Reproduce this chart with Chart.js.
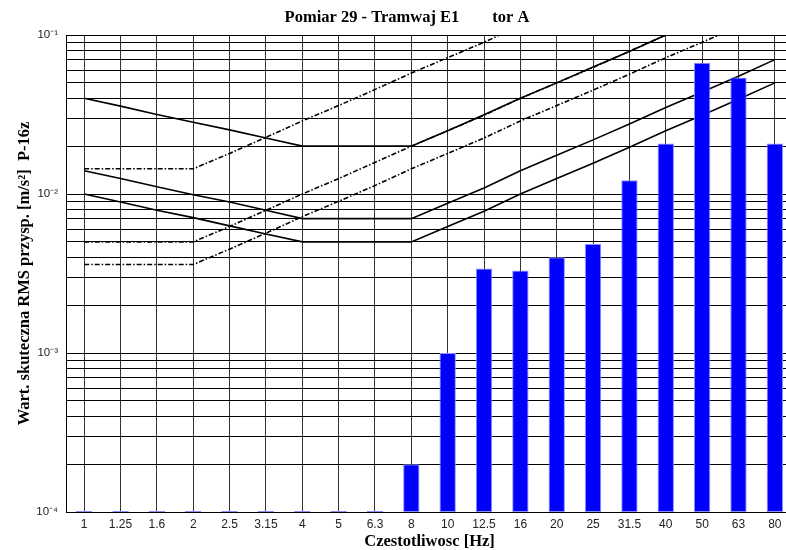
<!DOCTYPE html>
<html>
<head>
<meta charset="utf-8">
<script src="https://cdn.jsdelivr.net/npm/chart.js@4/dist/chart.umd.min.js"></script>
<style>
  html, body { margin: 0; padding: 0; background: #fff; overflow: hidden; }
  #wrap { width: 814px; height: 550px; }
</style>
</head>
<body>
<div id="wrap"><canvas id="chart"></canvas></div>
<script>
const freqs = ["1", "1.25", "1.6", "2", "2.5", "3.15", "4", "5", "6.3", "8",
  "10", "12.5", "16", "20", "25", "31.5", "40", "50", "63", "80"];

// measured RMS values (bars)
const rmsValues = [1.015e-4, 1.015e-4, 1.015e-4, 1.015e-4, 1.015e-4, 1.015e-4, 1.015e-4, 1.015e-4, 1.015e-4,
  2.0e-4, 1.0e-3, 3.4e-3, 3.3e-3, 4.0e-3, 4.85e-3, 1.22e-2, 2.08e-2, 6.7e-2, 5.4e-2, 2.08e-2];

// limit curves, solid
const curveA = [0.04, 0.0357, 0.0316, 0.0283, 0.0253, 0.0225, 0.02, 0.02, 0.02, 0.02,
  0.025, 0.0315, 0.04, 0.05, 0.063, 0.0788, 0.1, 0.125, 0.158, 0.2];
const curveB = [0.014, 0.0125, 0.0111, 0.0099, 0.0089, 0.0079, 0.007, 0.007, 0.007, 0.007,
  0.00875, 0.0109, 0.014, 0.0175, 0.0219, 0.0276, 0.035, 0.0438, 0.0551, 0.07];
const curveC = [0.01, 0.0089, 0.0079, 0.0071, 0.0063, 0.0056, 0.005, 0.005, 0.005, 0.005,
  0.00625, 0.0078, 0.01, 0.0125, 0.0156, 0.0197, 0.025, 0.0313, 0.0394, 0.05];

// limit curves, dash-dot
const curveD = [0.0144, 0.0144, 0.0144, 0.0144, 0.018, 0.0227, 0.0288, 0.036, 0.0454, 0.0576,
  0.072, 0.09, 0.115, 0.144, 0.18, 0.227, 0.288, 0.36, 0.454, 0.576];
const curveE = [0.005, 0.005, 0.005, 0.005, 0.00625, 0.0079, 0.01, 0.0125, 0.0158, 0.02,
  0.025, 0.0313, 0.04, 0.05, 0.0625, 0.079, 0.1, 0.125, 0.158, 0.2];
const curveF = [0.0036, 0.0036, 0.0036, 0.0036, 0.0045, 0.00567, 0.0072, 0.009, 0.0113, 0.0144,
  0.018, 0.0225, 0.0288, 0.036, 0.045, 0.0567, 0.072, 0.09, 0.113, 0.144];

const yTicks = [1e-4, 2e-4, 3e-4, 4e-4, 5e-4, 6e-4, 7e-4, 8e-4, 9e-4,
  1e-3, 2e-3, 3e-3, 4e-3, 5e-3, 6e-3, 7e-3, 8e-3, 9e-3,
  1e-2, 2e-2, 3e-2, 4e-2, 5e-2, 6e-2, 7e-2, 8e-2, 9e-2, 1e-1];
const decadeLabels = { "-4": "10⁻⁴", "-3": "10⁻³", "-2": "10⁻²", "-1": "10⁻¹" };

function lineSet(data, dashed) {
  return {
    type: "line",
    data,
    borderColor: "#000",
    borderWidth: 1.6,
    borderDash: dashed ? [5, 2, 1.5, 2] : [],
    pointRadius: 0,
    tension: 0,
    fill: false,
    order: 1,
  };
}

const serif = { family: "Liberation Serif", size: 16.5, weight: "bold", lineHeight: "16px" };

new Chart(document.getElementById("chart"), {
  type: "bar",
  data: {
    labels: freqs,
    datasets: [
      {
        data: rmsValues,
        backgroundColor: "#0000ff",
        borderColor: "#8c8cff",
        borderWidth: 1,
        borderSkipped: false,
        barPercentage: 0.45,
        categoryPercentage: 1,
        order: 0,
      },
      lineSet(curveA, false),
      lineSet(curveB, false),
      lineSet(curveC, false),
      lineSet(curveD, true),
      lineSet(curveE, true),
      lineSet(curveF, true),
    ],
  },
  options: {
    responsive: true,
    maintainAspectRatio: false,
    animation: false,
    layout: { padding: { left: 21, right: 21, top: 0, bottom: 0 } },
    plugins: {
      legend: { display: false },
      tooltip: { enabled: false },
      title: {
        display: true,
        text: "Pomiar 29 - Tramwaj E1        tor A",
        color: "#000",
        font: serif,
        padding: { top: 10, bottom: 9 },
      },
    },
    scales: {
      x: {
        offset: true,
        grid: { offset: false, color: "#333", lineWidth: 1, drawTicks: false },
        border: { color: "#000", width: 1 },
        ticks: {
          color: "#222",
          padding: 5,
          maxRotation: 0,
          autoSkip: false,
          font: { family: "Liberation Sans", size: 12 },
        },
        title: {
          display: true,
          text: "Czestotliwosc [Hz]",
          color: "#000",
          font: serif,
          padding: { top: 0, bottom: 0 },
        },
        afterFit: (scale) => { scale.height = 38; },
      },
      y: {
        type: "logarithmic",
        min: 1e-4,
        max: 1e-1,
        grid: { color: "#000", lineWidth: 1, drawTicks: false },
        border: { color: "#000", width: 1 },
        afterBuildTicks: (scale) => {
          scale.ticks = yTicks.map((v) => ({ value: v }));
        },
        ticks: {
          color: "#222",
          padding: 8,
          autoSkip: false,
          font: { family: "Liberation Sans", size: 11.5 },
          callback: (v) => {
            const e = Math.round(Math.log10(v));
            return Math.abs(Math.log10(v) - e) < 1e-6 ? decadeLabels[e] : "";
          },
        },
        title: {
          display: true,
          text: "Wart. skuteczna RMS przysp. [m/s²]  P-16z",
          color: "#000",
          font: serif,
          padding: { top: -4, bottom: 0 },
        },
        afterFit: (scale) => { scale.width = 45; },
      },
    },
  },
});
</script>
</body>
</html>
